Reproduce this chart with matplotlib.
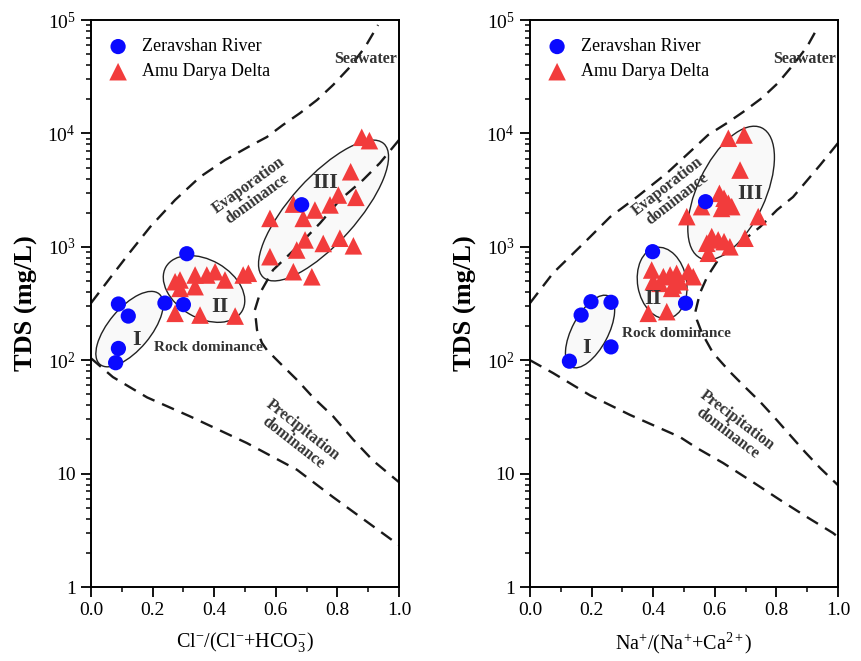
import numpy as np
import matplotlib
matplotlib.use('Agg')
import matplotlib.pyplot as plt
from matplotlib.patches import Ellipse
import matplotlib.transforms as mtransforms
from matplotlib.ticker import FixedLocator, FixedFormatter, NullFormatter, MultipleLocator

plt.rcParams['font.family'] = ['Liberation Serif', 'DejaVu Serif']
plt.rcParams['mathtext.fontset'] = 'custom'
plt.rcParams['mathtext.rm'] = 'Liberation Serif'
plt.rcParams['mathtext.it'] = 'Liberation Serif:italic'
plt.rcParams['mathtext.bf'] = 'Liberation Serif:bold'

# ---------------- data ----------------
series_names = ['Zeravshan River', 'Amu Darya Delta']

# Left panel: Cl/(Cl+HCO3) vs TDS
zr_cl_ratio = [0.089, 0.121, 0.240, 0.300, 0.311, 0.684, 0.089, 0.080]
zr_cl_tds = [313, 245, 319, 309, 869, 2350, 127, 95]

ad_cl_ratio = [0.879, 0.904, 0.843, 0.803, 0.860, 0.776, 0.657, 0.727, 0.689, 0.581,
               0.695, 0.668, 0.754, 0.808, 0.852, 0.581, 0.657, 0.717,
               0.273, 0.289, 0.338, 0.376, 0.403, 0.435, 0.289, 0.338, 0.494, 0.511,
               0.273, 0.354, 0.468]
ad_cl_tds = [9240, 8630, 4590, 2860, 2730, 2340, 2380, 2110, 1780, 1780,
             1150, 937, 1070, 1190, 1020, 818, 603, 544,
             492, 510, 564, 564, 603, 510, 430, 445, 564, 584,
             259, 250, 245]

# Right panel: Na/(Na+Ca) vs TDS
zr_na_ratio = [0.128, 0.166, 0.198, 0.263, 0.263, 0.505, 0.398, 0.570]
zr_na_tds = [98, 250, 328, 324, 131, 318, 906, 2500]

ad_na_ratio = [0.644, 0.695, 0.682, 0.615, 0.630, 0.644, 0.622, 0.655, 0.557, 0.509,
               0.741, 0.590, 0.611, 0.630, 0.649, 0.574, 0.698, 0.579,
               0.395, 0.433, 0.455, 0.476, 0.514, 0.530, 0.400, 0.422, 0.465, 0.487,
               0.460, 0.384, 0.444]
ad_na_tds = [9060, 9680, 4750, 2960, 2680, 2420, 2180, 2260, 2260, 1845,
             1845, 1230, 1150, 1110, 1000, 1075, 1190, 877,
             624, 545, 564, 583, 603, 545, 492, 476, 460, 492,
             430, 259, 268]

# Gibbs boundary curves (x ratio, TDS)
cl_upper_x = [0, 0.062, 0.127, 0.192, 0.273, 0.354, 0.435, 0.516, 0.571, 0.623,
              0.679, 0.734, 0.786, 0.841, 0.890, 0.932]
cl_upper_tds = [319, 531, 899, 1496, 2588, 4130, 5820, 7740, 9290, 11860,
                15130, 19720, 26730, 38550, 57790, 90360]
cl_right_x = [1.0, 0.938, 0.883, 0.808, 0.744, 0.669, 0.591, 0.549, 0.532, 0.539,
              0.555, 0.571, 0.614, 0.669, 0.721, 0.786, 0.851, 0.916, 1.0]
cl_right_tds = [8750, 5480, 3880, 2590, 1620, 995, 624, 392, 277, 185,
                142, 123, 94, 67, 47, 32, 20, 13, 8.4]
cl_lower_x = [0, 0.071, 0.182, 0.321, 0.506, 0.669, 0.786, 1.0]
cl_lower_tds = [104, 71, 47, 32, 18.6, 10.8, 6.2, 2.34]

na_upper_x = [0, 0.075, 0.185, 0.260, 0.347, 0.445, 0.526, 0.578, 0.640, 0.692,
              0.753, 0.805, 0.854, 0.899, 0.935]
na_upper_tds = [319, 587, 1148, 1832, 2748, 4477, 7145, 9680, 12360, 15450,
                20510, 27800, 40090, 57790, 86700]
na_right_x = [1.0, 0.942, 0.854, 0.802, 0.747, 0.682, 0.617, 0.575, 0.552, 0.536,
              0.542, 0.558, 0.594, 0.649, 0.698, 0.747, 0.795, 0.844, 0.893, 0.942, 1.0]
na_right_tds = [8220, 5260, 2748, 2113, 1496, 1081, 813, 542, 392, 261,
                226, 174, 116, 79, 58, 43, 31, 21.9, 15.5, 11.2, 7.9]
na_lower_x = [0, 0.075, 0.195, 0.325, 0.487, 0.542, 0.627, 0.724, 0.812, 0.899, 0.984, 1.0]
na_lower_tds = [100, 77, 49, 32.9, 21.0, 16.8, 12.4, 8.4, 5.85, 4.14, 2.99, 2.76]

x_ticks = [0.0, 0.2, 0.4, 0.6, 0.8, 1.0]
x_ticklabels = ['0.0', '0.2', '0.4', '0.6', '0.8', '1.0']
y_ticks = [1, 10, 100, 1000, 10000, 100000]
y_ticklabels = ['1', '10', '10$^2$', '10$^3$', '10$^4$', '10$^5$']

# ---------------- figure ----------------
fig = plt.figure(figsize=(8.62, 6.61), dpi=100)
ax1 = fig.add_axes([91 / 862, 74 / 661, 308 / 862, 567 / 661])
ax2 = fig.add_axes([530 / 862, 74 / 661, 308 / 862, 567 / 661])

BLUE = '#0a0aff'
RED = '#f23c3c'
DASH = (5.5, 3.5)


def style_axes(ax, xlabel):
    ax.set_xlim(0, 1)
    ax.set_yscale('log')
    ax.set_ylim(1, 1e5)
    ax.xaxis.set_major_locator(FixedLocator(x_ticks))
    ax.xaxis.set_major_formatter(FixedFormatter(x_ticklabels))
    ax.xaxis.set_minor_locator(MultipleLocator(0.1))
    ax.yaxis.set_major_locator(FixedLocator(y_ticks))
    ax.yaxis.set_major_formatter(FixedFormatter(y_ticklabels))
    ax.yaxis.set_minor_locator(matplotlib.ticker.LogLocator(base=10, subs=np.arange(2, 10)))
    ax.yaxis.set_minor_formatter(NullFormatter())
    ax.tick_params(which='major', direction='out', length=7, width=1.3, labelsize=14, pad=4)
    ax.tick_params(which='minor', direction='out', length=3.5, width=1.1)
    ax.tick_params(top=False, right=False, which='both')
    for s in ax.spines.values():
        s.set_linewidth(1.4)
    ax.set_xlabel(xlabel, fontsize=14.5, labelpad=8)
    ax.set_ylabel('TDS (mg/L)', fontsize=19, fontweight='bold', labelpad=7)


def draw_ellipses(ax, ells):
    for cx, cy, w, h, ang in ells:
        e = Ellipse((0, 0), w, h, angle=ang,
                    transform=mtransforms.ScaledTranslation(cx, cy, ax.transData),
                    facecolor='#f9f9f9', edgecolor='#222222', lw=1.0, zorder=1)
        ax.add_patch(e)


def draw_panel(ax, up_x, up_t, rt_x, rt_t, lo_x, lo_t, zx, zt, ax_x, ax_t, ells,
               texts):
    for xs, ts in ((up_x, up_t), (rt_x, rt_t), (lo_x, lo_t)):
        ax.plot(xs, ts, color='#1a1a1a', lw=1.7, ls=(0, DASH), zorder=2)
    draw_ellipses(ax, ells)
    red = ax.scatter(ax_x, ax_t, marker='^', s=160, color=RED, edgecolors='none',
                     zorder=3, label=series_names[1])
    blue = ax.scatter(zx, zt, marker='o', s=120, color=BLUE, edgecolors='none',
                      zorder=4, label=series_names[0])
    ax.legend(handles=[blue, red], loc='upper left', bbox_to_anchor=(0.0, 0.99),
              frameon=False, fontsize=13,
              handletextpad=0.5, labelspacing=0.45, borderaxespad=0.3,
              borderpad=0.4, handlelength=1.6)
    for (tx, ty, s, fs, rot) in texts:
        ax.text(tx, ty, s, transform=ax.transAxes, fontsize=fs, fontweight='bold',
                rotation=rot, ha='center', va='center', color='#333333',
                linespacing=1.0, zorder=5, rotation_mode='anchor')


left_ells = [(0.125, 188, 92, 42, 50), (0.367, 425, 88, 58, -30), (0.755, 2090, 180, 66, 48)]
right_ells = [(0.195, 179, 80, 36, 62), (0.429, 480, 72, 49, 100), (0.653, 2980, 144, 68, 65)]

left_texts = [(0.893, 0.932, 'Seawater', 11.5, 0),
              (0.526, 0.696, 'Evaporation\ndominance', 11.5, 36),
              (0.380, 0.423, 'Rock dominance', 11, 0),
              (0.672, 0.266, 'Precipitation\ndominance', 11.5, -38),
              (0.148, 0.436, 'I', 16, 0),
              (0.419, 0.494, 'II', 16, 0),
              (0.760, 0.712, 'III', 16, 0)]
right_texts = [(0.893, 0.932, 'Seawater', 11.5, 0),
               (0.462, 0.696, 'Evaporation\ndominance', 11.5, 38),
               (0.476, 0.447, 'Rock dominance', 11, 0),
               (0.656, 0.282, 'Precipitation\ndominance', 11.5, -37),
               (0.184, 0.421, 'I', 16, 0),
               (0.400, 0.508, 'II', 16, 0),
               (0.714, 0.694, 'III', 16, 0)]

style_axes(ax1, r'Cl$^{-}$/(Cl$^{-}$+HCO$_{3}^{-}$)')
style_axes(ax2, r'Na$^{+}$/(Na$^{+}$+Ca$^{2+}$)')

draw_panel(ax1, cl_upper_x, cl_upper_tds, cl_right_x, cl_right_tds, cl_lower_x, cl_lower_tds,
           zr_cl_ratio, zr_cl_tds, ad_cl_ratio, ad_cl_tds, left_ells, left_texts)
draw_panel(ax2, na_upper_x, na_upper_tds, na_right_x, na_right_tds, na_lower_x, na_lower_tds,
           zr_na_ratio, zr_na_tds, ad_na_ratio, ad_na_tds, right_ells, right_texts)

fig.savefig('out.png', dpi=100)
